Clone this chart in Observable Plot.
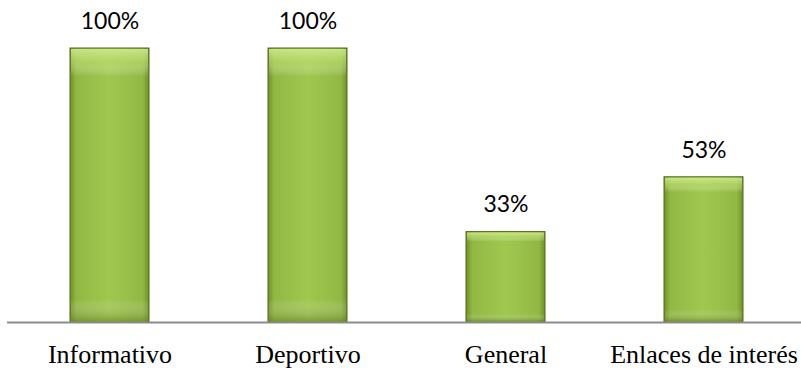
<!DOCTYPE html>
<html>
<head>
<meta charset="utf-8">
<script src="https://cdn.jsdelivr.net/npm/d3@7"></script>
<script src="https://cdn.jsdelivr.net/npm/@observablehq/plot@0.6"></script>
<style>
  html, body { margin: 0; padding: 0; background: #fff; }
  #chart svg { display: block; }
  #chart g[aria-label="x-axis tick label"] text { font-family: "Liberation Serif", "DejaVu Serif", serif; }
</style>
</head>
<body>
<div id="chart"></div>
<script>
const categories = ["Informativo", "Deportivo", "General", "Enlaces de interés"];
const values = [1.00, 1.00, 0.33, 0.53];
const valueLabels = ["100%", "100%", "33%", "53%"];

const data = categories.map((c, i) => ({category: c, value: values[i], label: valueLabels[i]}));

const chart = Plot.plot({
  width: 801,
  height: 370,
  marginLeft: 7,
  marginRight: 0,
  marginTop: 48,
  marginBottom: 48,
  style: {fontFamily: "'Liberation Serif', 'DejaVu Serif', serif"},
  x: {domain: categories, range: [10, 804], paddingInner: 0.6, paddingOuter: 0.3, label: null},
  y: {domain: [0, 1], range: [322, 48], axis: null},
  marks: [
    Plot.barY(data, {x: "category", y: "value", fill: "url(#barH)", stroke: "#4f6b1c", strokeWidth: 1}),
    Plot.barY(data, {x: "category", y: "value", fill: "url(#barV)", inset: 1}),
    Plot.ruleY([0], {stroke: "#8c8c8c", strokeWidth: 2}),
    Plot.text(data, {x: "category", y: "value", text: "label", dy: -27, fontSize: 23, fontFamily: "Lato, 'Liberation Sans', sans-serif", fill: "#000"}),
    Plot.axisX({tickSize: 0, tickPadding: 22, fontSize: 26, fontFamily: "Liberation Serif", color: "#000"})
  ]
});

const ns = "http://www.w3.org/2000/svg";
const defs = document.createElementNS(ns, "defs");
defs.innerHTML = `
  <linearGradient id="barH" x1="0" x2="1" y1="0" y2="0">
    <stop offset="0" stop-color="#6f9028"/>
    <stop offset="0.08" stop-color="#92b844"/>
    <stop offset="0.5" stop-color="#a0c84f"/>
    <stop offset="0.92" stop-color="#92b844"/>
    <stop offset="1" stop-color="#6f9028"/>
  </linearGradient>
  <linearGradient id="barV" x1="0" x2="0" y1="0" y2="1">
    <stop offset="0" stop-color="#d2ec94" stop-opacity="0.85"/>
    <stop offset="0.05" stop-color="#bfe074" stop-opacity="0.55"/>
    <stop offset="0.1" stop-color="#ffffff" stop-opacity="0"/>
    <stop offset="0.92" stop-color="#ffffff" stop-opacity="0"/>
    <stop offset="1" stop-color="#5d7a1e" stop-opacity="0.5"/>
  </linearGradient>`;
chart.insertBefore(defs, chart.firstChild);
document.getElementById("chart").appendChild(chart);
</script>
</body>
</html>
